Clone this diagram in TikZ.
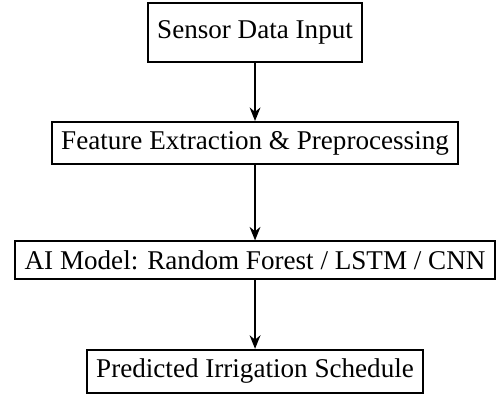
\documentclass[tikz,border=0pt]{standalone}
\usepackage{fontspec}
\setmainfont{Liberation Serif}
\usetikzlibrary{positioning, arrows.meta}

\begin{document}
\begin{tikzpicture}[>={Stealth[length=5pt, width=4pt]}, on grid]
  \tikzset{block/.style={draw, rectangle, line width=0.7pt, inner sep=3.4pt, font=\fontsize{10}{12}\selectfont}}

  % Input
  \node [block, minimum height=21.8pt] (sensor) at (0, 0) {Sensor Data Input};

  % Processing
  \node [block, below=40.8pt of sensor] (feature) {Feature Extraction \& Preprocessing};
  \node [block, below=43.2pt of feature] (model) {AI Model: Random Forest / LSTM / CNN};

  % Output
  \node [block, below=41pt of model] (schedule) {Predicted Irrigation Schedule};

  \draw [->, line width=0.6pt] (sensor) -- (feature);
  \draw [->, line width=0.6pt] (feature) -- (model);
  \draw [->, line width=0.6pt] (model) -- (schedule);

  \useasboundingbox ([xshift=-94.1pt, yshift=12pt]sensor.center) rectangle ([xshift=88.9pt, yshift=-133.4pt]sensor.center);
\end{tikzpicture}
\end{document}
